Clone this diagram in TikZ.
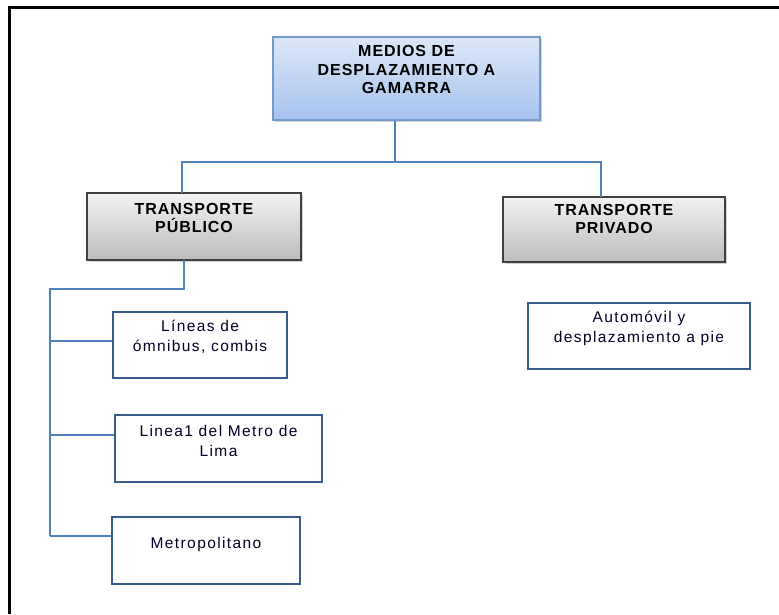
\documentclass[tikz,border=0pt]{standalone}
\usepackage{fontspec}
\setmainfont{Liberation Sans}
\usetikzlibrary{positioning}
\usetikzlibrary{shadows}
\definecolor{conector}{HTML}{4F81BD}
\definecolor{borde}{HTML}{385D8A}
\definecolor{azulclaro}{HTML}{DCE7F7}
\definecolor{azulfondo}{HTML}{A6C3EE}
\definecolor{grisclaro}{HTML}{F2F2F2}
\definecolor{grisfondo}{HTML}{BDBDBD}

\tikzset{
  conn/.style={conector, line width=1.1pt},
  raiz/.style={draw=conector!80, line width=1.4pt, top color=azulclaro, bottom color=azulfondo,
    drop shadow={shadow xshift=2pt, shadow yshift=-2pt, opacity=0.35}},
  rama/.style={draw=black!75, line width=2pt, top color=grisclaro, bottom color=grisfondo,
    drop shadow={shadow xshift=2pt, shadow yshift=-2pt, opacity=0.35}},
  hoja/.style={draw=borde, line width=2.5pt, fill=white},
  titulo/.style={anchor=north, align=center, inner sep=0pt, font=\fontsize{16}{18.5}\selectfont\bfseries\addfontfeature{LetterSpace=6}},
  texto/.style={anchor=north, align=center, inner sep=0pt, text=black!85!blue, font=\fontsize{15.5}{20}\selectfont\addfontfeature{LetterSpace=9}}
}

\begin{document}
\begin{tikzpicture}[x=1pt, y=-1pt]

\useasboundingbox (0,0) rectangle (779,614);

% marco
\draw[black, line width=3pt] (9.5,614) -- (9.5,7) -- (779,7);

\begin{scope}{
\node[raiz, minimum width=267pt, minimum height=83pt] (medios) at (406.5,78.5) {};
\node[titulo, yshift=-9pt] (mediost) at (medios.north) {MEDIOS DE\\DESPLAZAMIENTO A\\GAMARRA};

\node[rama, minimum width=214pt, minimum height=67pt] (publico) at (194,226.5) {};
\node[titulo, yshift=-11pt] (publicot) at (publico.north) {TRANSPORTE\\PÚBLICO};

\node[rama, minimum width=222pt, minimum height=65pt] (privado) at (614,229.5) {};
\node[titulo, yshift=-8pt] (privadot) at (privado.north) {TRANSPORTE\\PRIVADO};

\coordinate (cruce) at (395,162);
\coordinate (pubin) at (182,193);
\coordinate (privin) at (601,197);
\draw[conn] (medios.south -| cruce) -- (cruce) -| (pubin);
\draw[conn] (cruce) -| (privin);
} \end{scope}

\begin{scope}{
\node[hoja, minimum width=174pt, minimum height=66pt] (lineas) at (200,345) {};
\node[texto, yshift=-9pt] (lineast) at (lineas.north) {Líneas de\\ómnibus, combis};

\node[hoja, minimum width=207pt, minimum height=67pt] (linea1) at (218.5,448.5) {};
\node[texto, yshift=-11pt] (linea1t) at (linea1.north) {Linea1 del Metro de\\Lima};

\node[hoja, minimum width=188pt, minimum height=67pt] (metro) at (206,550.5) {};
\node[texto, yshift=-21pt] (metrot) at (metro.north) {Metropolitano};

\node[hoja, minimum width=222pt, minimum height=66pt] (auto) at (639,336) {};
\node[texto, yshift=-9pt] (autot) at (auto.north) {Automóvil y\\desplazamiento a pie};

\coordinate (pubout) at (184,260);
\coordinate (b1) at (50,341);
\coordinate (b2) at (50,435);
\coordinate (b3) at (50,536);
\draw[conn] (pubout) -- ++(0,29) -| (b3);
\draw[conn] (b1) -- (b1 -| lineas.west);
\draw[conn] (b2) -- (b2 -| linea1.west);
\draw[conn] (b3) -- (b3 -| metro.west);
} \end{scope}

\end{tikzpicture}
\end{document}
